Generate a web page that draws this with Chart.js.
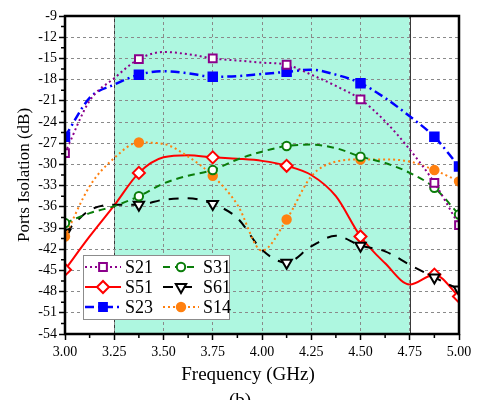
<!DOCTYPE html>
<html>
<head>
<meta charset="utf-8">
<script src="https://cdn.jsdelivr.net/npm/chart.js@4.4.0/dist/chart.umd.min.js"></script>
<style>
  html, body { margin: 0; padding: 0; background: #fff; }
  #wrap { width: 479px; height: 400px; }
</style>
</head>
<body>
<div id="wrap"><canvas id="chart" width="479" height="400"></canvas></div>
<script>
// --- Data ---
const freqGHz = [3.0, 3.125, 3.25, 3.375, 3.5, 3.625, 3.75, 3.875, 4.0, 4.125, 4.25, 4.375, 4.5, 4.625, 4.75, 4.875, 5.0];
const s21 = [-28.4, -21.0, -17.8, -15.1, -14.1, -14.4, -15.0, -15.3, -15.6, -15.9, -17.3, -18.9, -20.8, -23.9, -27.9, -32.6, -38.6];
const s23 = [-26.1, -20.6, -18.7, -17.3, -16.8, -17.1, -17.6, -17.5, -17.2, -16.9, -16.6, -17.3, -18.5, -20.6, -23.2, -26.1, -30.3];
const s31 = [-38.3, -36.9, -35.9, -34.5, -32.7, -31.6, -30.8, -29.3, -28.2, -27.4, -27.2, -27.7, -28.9, -29.8, -31.2, -33.3, -37.1];
const s14 = [-40.2, -33.1, -29.1, -26.9, -27.1, -28.9, -31.6, -35.7, -42.2, -37.8, -31.7, -29.6, -29.3, -29.3, -29.6, -30.8, -32.4];
const s51 = [-44.9, -40.2, -35.8, -31.2, -29.0, -28.7, -29.0, -29.2, -29.5, -30.2, -31.5, -34.5, -40.2, -44.0, -47.0, -45.6, -48.7];
const s61 = [-39.7, -36.5, -35.7, -35.7, -35.0, -34.8, -35.6, -37.6, -42.1, -43.9, -41.6, -40.1, -41.5, -42.3, -44.2, -46.0, -47.7];

// points that carry a symbol
const markerIdx = [0, 3, 6, 9, 12, 15, 16];
// highlighted band (GHz)
const bandStart = 3.25;
const bandEnd = 4.75;

const SERIF = '"Liberation Serif", "Times New Roman", serif';

function toXY(values) {
    return values.map((v, i) => ({ x: freqGHz[i], y: v }));
}

function series(label, values, color, dash, style, radius, filled, extra) {
    return Object.assign({
        label,
        data: toXY(values),
        borderColor: color,
        borderWidth: 2,
        borderDash: dash,
        cubicInterpolationMode: 'monotone',
        pointStyle: style,
        pointRadius: ctx => markerIdx.includes(ctx.dataIndex) ? radius : 0,
        pointHoverRadius: 0,
        pointBorderColor: color,
        pointBorderWidth: 2,
        pointBackgroundColor: filled ? color : '#ffffff',
        fill: false
    }, extra || {});
}

const datasets = [
    series('S21', s21, '#8b008b', [2, 3], 'rect', 5.5, false),
    series('S23', s23, '#0000ff', [9, 4, 2, 4], 'rect', 6, true, { borderWidth: 2.5 }),
    series('S31', s31, '#0a7d0a', [7, 5], 'circle', 4.2, false),
    series('S14', s14, '#ff8010', [2, 3], 'circle', 4.2, true),
    series('S61', s61, '#000000', [10, 9], 'triangle', 6, false, { pointRotation: 180 }),
    series('S51', s51, '#ff0000', [], 'rectRot', 6, false)
];

// legend layout: [label, column, row]
const legendOrder = [['S21', 0, 0], ['S31', 1, 0], ['S51', 0, 1], ['S61', 1, 1], ['S23', 0, 2], ['S14', 1, 2]];

// --- Plugins ---
const bandPlugin = {
    id: 'band',
    beforeDraw(chart) {
        const { ctx, chartArea, scales } = chart;
        const x0 = scales.x.getPixelForValue(bandStart);
        const x1 = scales.x.getPixelForValue(bandEnd);
        ctx.save();
        ctx.fillStyle = '#aef7e0';
        ctx.fillRect(x0, chartArea.top, x1 - x0, chartArea.bottom - chartArea.top);
        ctx.strokeStyle = '#3a3a3a';
        ctx.lineWidth = 1;
        ctx.beginPath();
        ctx.moveTo(Math.round(x0) + 0.5, chartArea.top);
        ctx.lineTo(Math.round(x0) + 0.5, chartArea.bottom);
        ctx.moveTo(Math.round(x1) + 0.5, chartArea.top);
        ctx.lineTo(Math.round(x1) + 0.5, chartArea.bottom);
        ctx.stroke();
        ctx.restore();
    }
};

const framePlugin = {
    id: 'frame',
    afterDraw(chart) {
        const { ctx, chartArea, scales } = chart;
        const { left, right, top, bottom } = chartArea;
        ctx.save();
        ctx.strokeStyle = '#000';

        // minor ticks
        ctx.lineWidth = 1.5;
        ctx.beginPath();
        for (let f = 3.125; f < 5; f += 0.25) {
            const x = scales.x.getPixelForValue(f);
            ctx.moveTo(x, bottom);
            ctx.lineTo(x, bottom + 4);
        }
        for (let v = -52.5; v < -9; v += 3) {
            const y = scales.y.getPixelForValue(v);
            ctx.moveTo(left, y);
            ctx.lineTo(left - 4, y);
        }
        ctx.stroke();

        // axis box
        ctx.lineWidth = 2.5;
        ctx.strokeRect(left, top, right - left, bottom - top);

        // axis titles
        ctx.fillStyle = '#000';
        ctx.font = '19px ' + SERIF;
        ctx.textAlign = 'center';
        ctx.textBaseline = 'middle';
        ctx.fillText('Frequency (GHz)', 248, 375);
        ctx.fillText('(b)', 240, 401);
        ctx.save();
        ctx.translate(25, 175);
        ctx.rotate(-Math.PI / 2);
        ctx.font = '17px ' + SERIF;
        ctx.fillText('Ports Isolation (dB)', 0, 0);
        ctx.restore();

        // legend
        const boxX = 83, boxY = 255, boxW = 146, boxH = 64;
        ctx.fillStyle = '#fff';
        ctx.fillRect(boxX, boxY, boxW, boxH);
        ctx.strokeStyle = '#8c8c8c';
        ctx.lineWidth = 1;
        ctx.strokeRect(boxX + 0.5, boxY + 0.5, boxW, boxH);

        const colLineX = [85, 163];
        const rowY = [267, 287, 307];
        legendOrder.forEach(([label, col, row]) => {
            const ds = chart.data.datasets.find(d => d.label === label);
            const x0 = colLineX[col];
            const x1 = x0 + 36;
            const y = rowY[row];
            ctx.save();
            ctx.strokeStyle = ds.borderColor;
            ctx.lineWidth = ds.borderWidth;
            ctx.setLineDash(ds.borderDash);
            ctx.beginPath();
            ctx.moveTo(x0, y);
            ctx.lineTo(x1, y);
            ctx.stroke();
            ctx.setLineDash([]);
            ctx.fillStyle = ds.pointBackgroundColor;
            ctx.strokeStyle = ds.pointBorderColor;
            ctx.lineWidth = ds.pointBorderWidth;
            const r = ds.pointStyle === 'rect' ? 5.5 : (ds.pointStyle === 'circle' ? 4.2 : 6);
            Chart.helpers.drawPoint(ctx, {
                pointStyle: ds.pointStyle,
                rotation: ds.pointRotation || 0,
                radius: r,
                borderWidth: ds.pointBorderWidth
            }, (x0 + x1) / 2, y);
            ctx.fillStyle = '#000';
            ctx.font = '18px ' + SERIF;
            ctx.textAlign = 'left';
            ctx.textBaseline = 'middle';
            ctx.fillText(label, x1 + 4, y + 1);
            ctx.restore();
        });
        ctx.restore();
    }
};

// --- Chart ---
const gridCommon = {
    color: '#8a8a8a',
    lineWidth: 1,
    tickColor: '#000',
    tickLength: 6,
    tickWidth: 1.5
};

new Chart(document.getElementById('chart').getContext('2d'), {
    type: 'line',
    data: { datasets },
    options: {
        responsive: false,
        animation: false,
        events: [],
        layout: { padding: { left: 0, right: 20, top: 16, bottom: 0 } },
        plugins: {
            legend: { display: false },
            tooltip: { enabled: false }
        },
        scales: {
            x: {
                type: 'linear',
                min: 3,
                max: 5,
                grid: gridCommon,
                border: { display: false, dash: [3, 3] },
                ticks: {
                    stepSize: 0.25,
                    color: '#000',
                    padding: 4,
                    font: { family: SERIF, size: 14 },
                    callback: v => v.toFixed(2)
                },
                afterFit: s => { s.height = 66; }
            },
            y: {
                min: -54,
                max: -9,
                grid: gridCommon,
                border: { display: false, dash: [3, 3] },
                ticks: {
                    stepSize: 3,
                    color: '#000',
                    padding: 2,
                    font: { family: SERIF, size: 14 },
                    callback: v => String(v)
                },
                afterFit: s => { s.width = 65; }
            }
        }
    },
    plugins: [bandPlugin, framePlugin]
});
</script>
</body>
</html>
